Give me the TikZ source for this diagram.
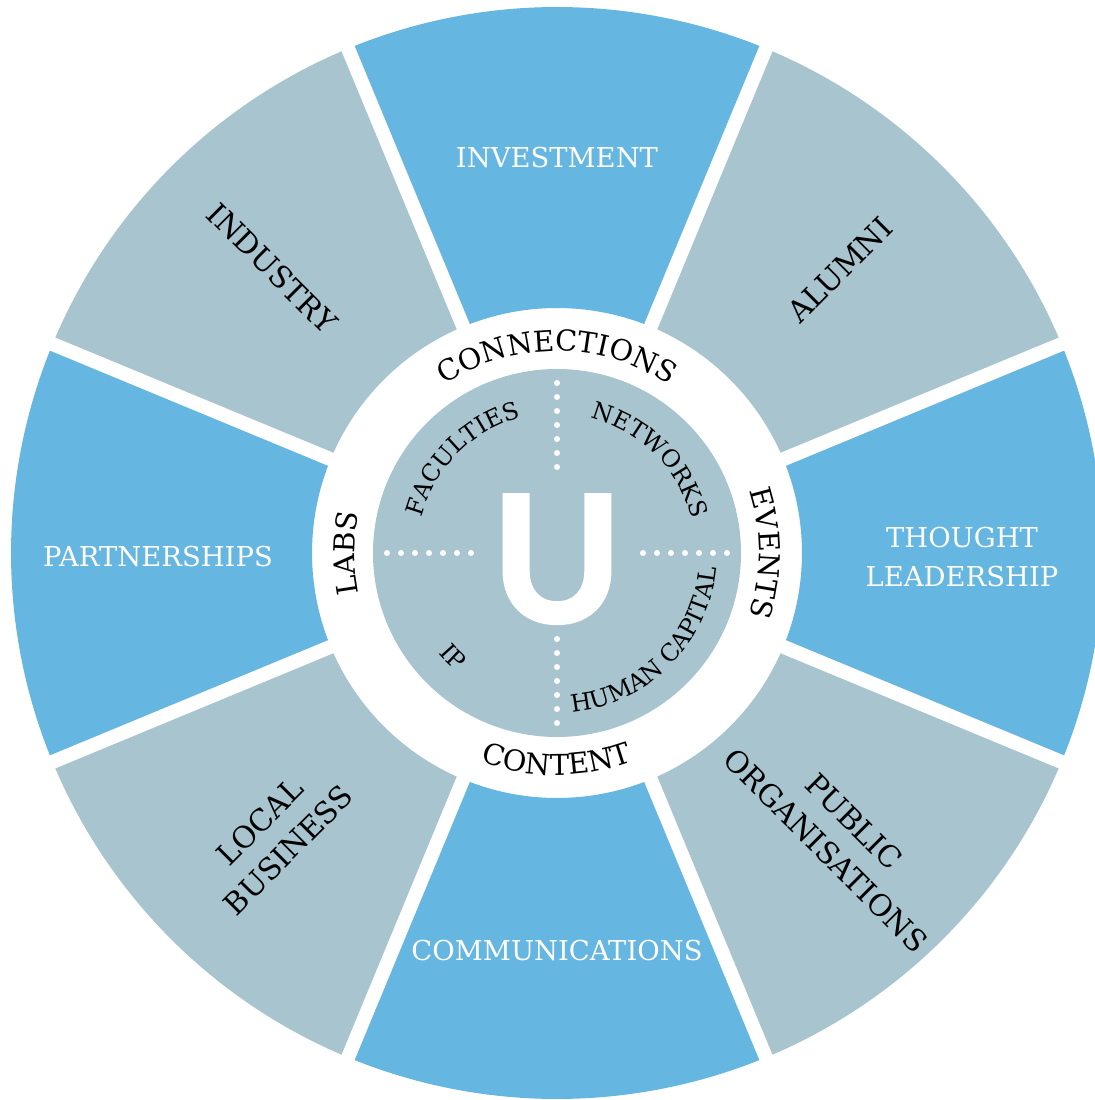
\documentclass[tikz,border=0pt]{standalone}
\usepackage{fontspec}
\setmainfont{DejaVu Serif}
\newfontfamily\ufont[BoldFeatures={FakeBold=2}]{Lato}
\usetikzlibrary{decorations.text}
\definecolor{segblue}{RGB}{101,182,224}
\definecolor{seggray}{RGB}{168,197,207}
\newcommand{\ringfont}{\fontsize{8.2}{8.2}\selectfont}
\newcommand{\corefont}{\fontsize{6.8}{6.8}\selectfont}
\begin{document}
\begin{tikzpicture}[
		lbl/.style={font=\fontsize{7.8}{11}\selectfont, align=center, inner sep=0pt},
		whitelbl/.style={lbl, text=white},
		blacklbl/.style={lbl, text=black, font=\fontsize{8.5}{11.5}\selectfont},
		outtext/.style={decorate, decoration={text along path, text align=center, text={|\ringfont|#1}}},
		coretext/.style={decorate, decoration={text along path, text align=center, text={|\corefont|#1}}}]
		\useasboundingbox (-5.57,-5.47) rectangle (5.38,5.53);
		% outer ring of eight segments
		\foreach \a/\c in {90/segblue,45/seggray,0/segblue,-45/seggray,-90/segblue,-135/seggray,180/segblue,135/seggray}
			\fill[\c] ({\a-22.5}:2.45) arc[start angle={\a-22.5}, end angle={\a+22.5}, radius=2.45]
				-- ({\a+22.5}:5.46) arc[start angle={\a+22.5}, end angle={\a-22.5}, radius=5.46] -- cycle;
		\foreach \a in {22.5,67.5,...,337.5}
			\draw[white, line width=0.14cm] (\a:2.3) -- (\a:5.7);
		% inner disc
		\fill[seggray] (0,0) circle (1.84);
		\foreach \a in {0,90,180,270}
			\foreach \k in {0,...,6}
				\fill[white] (\a:{0.86+0.14*\k}) circle (0.03);
		\node[text=white, font=\ufont\bfseries\fontsize{50}{50}\selectfont, inner sep=0pt, anchor=base] (ubig) at (0,-0.69) {U};
		% segment labels
		\node[whitelbl] (invest) at (90:3.95) {INVESTMENT};
		\node[whitelbl] (thought) at (0.04,-0.04) [xshift=4.01cm] {THOUGHT\\LEADERSHIP};
		\node[whitelbl] (comms) at (-90:3.98) {COMMUNICATIONS};
		\node[whitelbl] (partner) at (-3.99,-0.04) {PARTNERSHIPS};
		\node[blacklbl, rotate=-45] (industry) at (135:4.03) {INDUSTRY};
		\node[blacklbl, rotate=45] (alumni) at (45:4.0) {ALUMNI};
		\node[blacklbl, rotate=45] (localbiz) at (225:4.0) {LOCAL\\BUSINESS};
		\node[blacklbl, rotate=-45] (publicorg) at (-45:4.0) {PUBLIC\\ORGANISATIONS};
		% ring labels
		\path[outtext=CONNECTIONS] (150:2.02) arc[start angle=150, end angle=30, radius=2.02];
		\path[outtext=EVENTS] (60:2.02) arc[start angle=60, end angle=-60, radius=2.02];
		\path[outtext=LABS] (240:2.02) arc[start angle=240, end angle=120, radius=2.02];
		\path[outtext=CONTENT] (210:2.22) arc[start angle=210, end angle=330, radius=2.22];
		% core labels
		\path[coretext=FACULTIES] (195:1.40) arc[start angle=195, end angle=75, radius=1.40];
		\path[coretext=NETWORKS] (105:1.39) arc[start angle=105, end angle=-15, radius=1.39];
		\path[coretext=HUMAN CAPITAL] (-105:1.60) arc[start angle=-105, end angle=15, radius=1.60];
		\path[coretext=IP] (165:1.55) arc[start angle=165, end angle=285, radius=1.55];
\end{tikzpicture}
\end{document}
